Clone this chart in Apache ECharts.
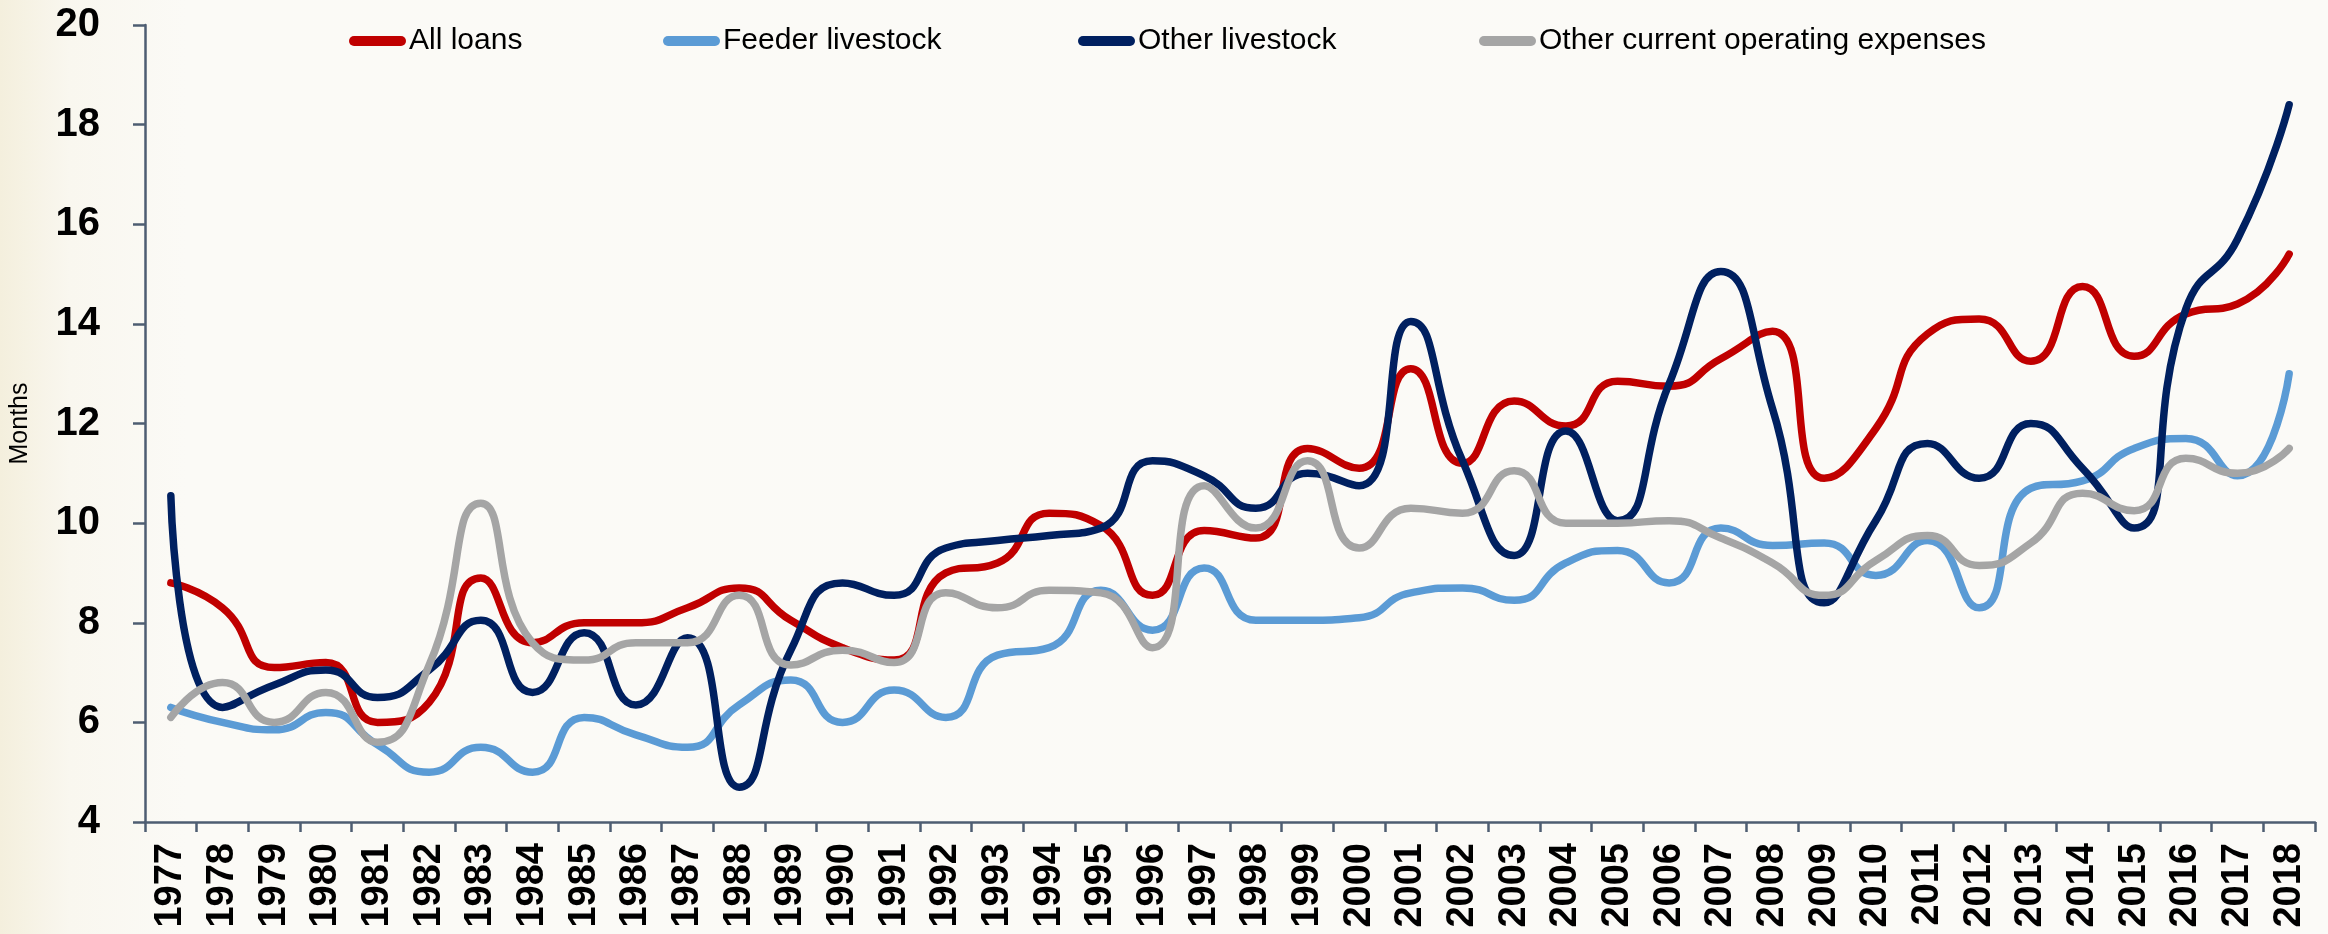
<!DOCTYPE html>
<html>
<head>
<meta charset="utf-8">
<script src="https://cdn.jsdelivr.net/npm/echarts@6/dist/echarts.min.js"></script>
<style>
  html, body { margin: 0; padding: 0; }
  body {
    width: 2328px; height: 934px;
    background: linear-gradient(to right, #f4efdd 0%, #f9f7ef 3%, #fbfaf6 8%, #fbfaf7 100%);
  }
  #chart { width: 2328px; height: 934px; }
</style>
</head>
<body>
<div id="chart"></div>
<script>
// years on the x axis
var years = [];
for (var y = 1977; y <= 2018; y++) years.push(String(y));

// months
var allLoans = [8.8, 8.3, 7.1, 7.2, 6.0, 6.4, 8.9, 7.6, 8.0, 8.0, 8.3, 8.7, 8.05, 7.5, 7.25, 9.0, 9.2, 10.2, 9.95, 8.55,
  9.85, 9.7, 11.5, 11.1, 13.1, 11.2, 12.45, 11.95, 12.85, 12.75, 13.3, 13.85, 10.9, 11.9, 13.8, 14.1, 13.25, 14.75, 13.35, 14.2, 14.4, 15.4];
var feederLivestock = [6.3, 6.0, 5.85, 6.2, 5.55, 5.0, 5.5, 5.0, 6.1, 5.75, 5.5, 6.35, 6.85, 6.0, 6.65, 6.1, 7.35, 7.5, 8.65, 7.85,
  9.1, 8.05, 8.05, 8.1, 8.6, 8.7, 8.45, 9.2, 9.45, 8.8, 9.9, 9.55, 9.6, 8.95, 9.65, 8.3, 10.7, 10.85, 11.5, 11.7, 10.95, 13.0];
var otherLivestock = [10.55, 6.3, 6.75, 7.05, 6.5, 7.05, 8.05, 6.6, 7.8, 6.35, 7.7, 4.7, 7.45, 8.8, 8.55, 9.5, 9.65, 9.75, 9.9, 11.25,
  10.95, 10.3, 11.0, 10.75, 14.05, 11.25, 9.35, 11.85, 10.05, 12.8, 15.05, 12.3, 8.4, 10.05, 11.6, 10.9, 12.0, 11.1, 9.9, 14.3, 15.7, 18.4];
var otherExpenses = [6.1, 6.8, 6.0, 6.6, 5.6, 7.15, 10.4, 7.6, 7.25, 7.6, 7.6, 8.55, 7.15, 7.45, 7.2, 8.6, 8.3, 8.65, 8.6, 7.5,
  10.75, 9.9, 11.25, 9.5, 10.3, 10.2, 11.05, 10.0, 10.0, 10.05, 9.7, 9.2, 8.55, 9.25, 9.75, 9.15, 9.6, 10.6, 10.25, 11.3, 11.0, 11.5];

var yTicks = { min: 4, max: 20, interval: 2 };

var names = ["All loans", "Feeder livestock", "Other livestock", "Other current operating expenses"];
var colors = ["#c00000", "#5b9bd5", "#002060", "#a5a5a5"];
var legendLeft = [344, 658, 1073, 1474];

var font = "Liberation Sans, Arial, sans-serif";
var axisColor = "#4e5d72";
var pill = "path://M5,0 L52,0 A5,5 0 0 1 52,10 L5,10 A5,5 0 0 1 5,0 Z";

function makeLegend(i) {
  return {
    data: [names[i]],
    left: legendLeft[i],
    top: 21,
    icon: pill,
    itemWidth: 57,
    itemHeight: 10,
    itemGap: 0,
    textStyle: { fontFamily: font, fontSize: 30, color: "#000", padding: [0, 0, 0, -2] }
  };
}

function makeSeries(i, values) {
  return {
    name: names[i],
    type: "line",
    data: values,
    smooth: 0.55,
    symbol: "none",
    lineStyle: { color: colors[i], width: 7.5, cap: "round", join: "round" },
    itemStyle: { color: colors[i] }
  };
}

var myChart = echarts.init(document.getElementById("chart"));
var option = {
  backgroundColor: "transparent",
  animation: false,
  legend: [makeLegend(0), makeLegend(1), makeLegend(2), makeLegend(3)],
  grid: { left: 138, right: 13, top: 25, bottom: 112 },
  xAxis: {
    type: "category",
    data: years,
    boundaryGap: true,
    axisLine: { lineStyle: { color: axisColor, width: 2.5 } },
    axisTick: { show: true, interval: 0, length: 10, lineStyle: { color: axisColor, width: 2.5 } },
    axisLabel: {
      interval: 0,
      rotate: 90,
      margin: 21,
      fontFamily: font,
      fontWeight: "bold",
      fontSize: 38,
      color: "#000"
    },
    splitLine: { show: false }
  },
  yAxis: {
    type: "value",
    min: yTicks.min,
    max: yTicks.max,
    interval: yTicks.interval,
    name: "Months",
    nameLocation: "middle",
    nameRotate: 90,
    nameGap: 112,
    nameTextStyle: { fontFamily: font, fontSize: 25, color: "#000" },
    axisLine: { show: true, lineStyle: { color: axisColor, width: 2.5 } },
    axisTick: { show: true, length: 12, lineStyle: { color: axisColor, width: 2.5 } },
    axisLabel: {
      margin: 45,
      fontFamily: font,
      fontWeight: "bold",
      fontSize: 40,
      color: "#000"
    },
    splitLine: { show: false }
  },
  series: [
    makeSeries(0, allLoans),
    makeSeries(1, feederLivestock),
    makeSeries(2, otherLivestock),
    makeSeries(3, otherExpenses)
  ]
};
myChart.setOption(option);
</script>
</body>
</html>
